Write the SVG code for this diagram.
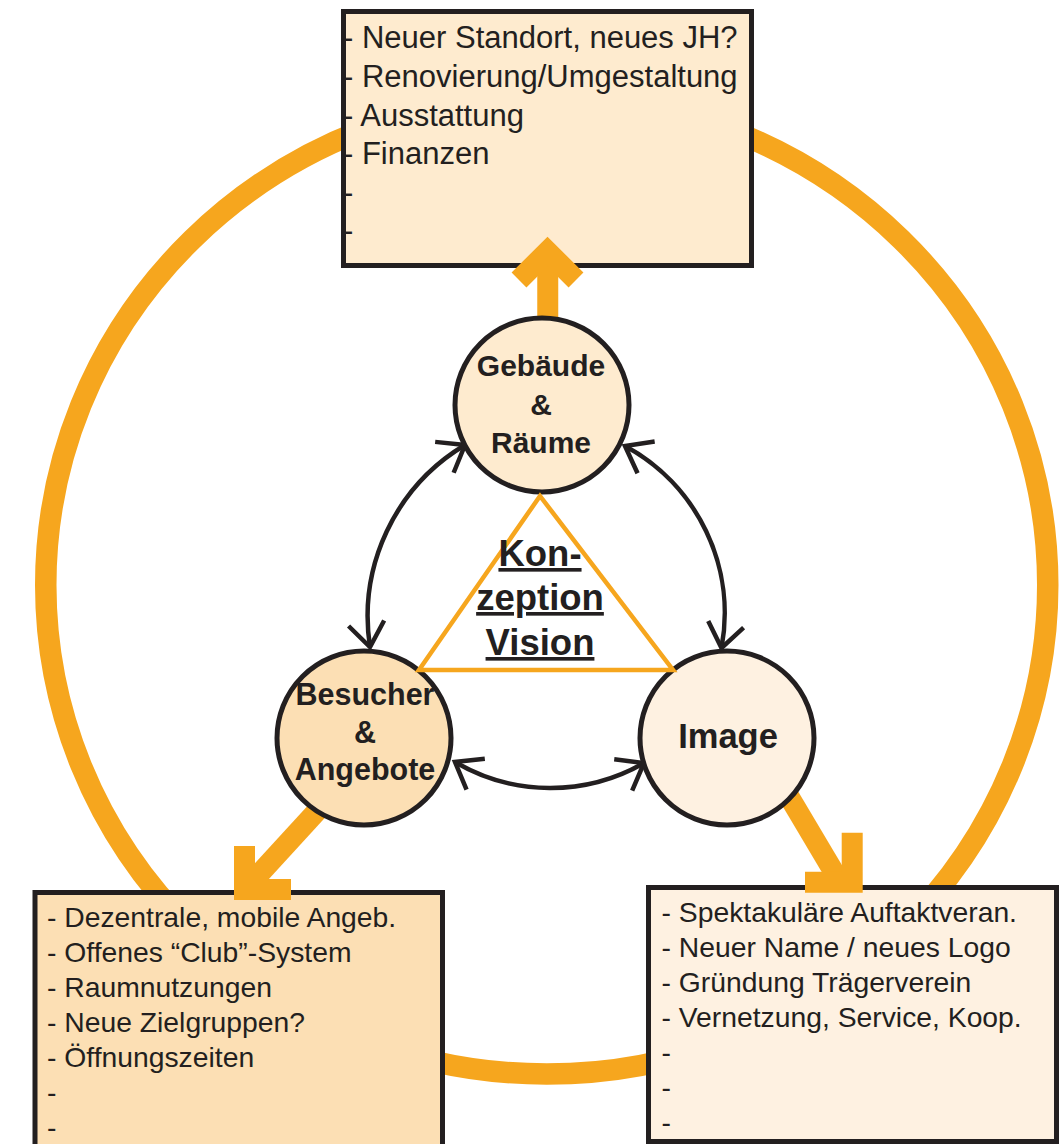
<svg xmlns="http://www.w3.org/2000/svg" width="1059" height="1144" viewBox="0 0 1059 1144">
<style>
.box{stroke:#231F20;stroke-width:5}
.list{font-family:"Liberation Sans",Arial,Helvetica,sans-serif;fill:#231F20}
.node{stroke:#231F20;stroke-width:5}
.lbl{font-family:"Liberation Sans",Arial,Helvetica,sans-serif;font-weight:bold;fill:#231F20;text-anchor:middle}
.orange{fill:none;stroke:#F6A61E;stroke-width:21;stroke-linecap:butt;stroke-linejoin:miter;stroke-miterlimit:10}
.arc{fill:none;stroke:#231F20;stroke-width:4.5}
</style>
<defs>
<marker id="ah" viewBox="-32 -26 36 52" refX="0" refY="0" markerWidth="36" markerHeight="52" markerUnits="userSpaceOnUse" orient="auto-start-reverse">
<path d="M-24,-18 L0,0 L-24,18" fill="none" stroke="#231F20" stroke-width="4.5"/>
</marker>
</defs>
<rect width="1059" height="1144" fill="#FFFFFF"/>
<ellipse id="ring" cx="546.75" cy="585" rx="501" ry="489" fill="none" stroke="#F6A61E" stroke-width="21.5"/>

<g id="box-gebaeude">
<rect class="box" x="343.5" y="11.5" width="408" height="254" fill="#FEEBCF"/>
<text class="list" font-size="31">
<tspan x="343" y="48">- Neuer Standort, neues JH?</tspan>
<tspan x="343" y="87">- Renovierung/Umgestaltung</tspan>
<tspan x="343" y="126">- Ausstattung</tspan>
<tspan x="343" y="164">- Finanzen</tspan>
<tspan x="343" y="203">-</tspan>
<tspan x="343" y="241">-</tspan>
</text>
</g>

<g id="box-besucher">
<rect class="box" x="35" y="892.5" width="407.5" height="270" fill="#FCDFB4"/>
<text class="list" font-size="28.3">
<tspan x="47" y="927">- Dezentrale, mobile Angeb.</tspan>
<tspan x="47" y="962">- Offenes “Club”-System</tspan>
<tspan x="47" y="997">- Raumnutzungen</tspan>
<tspan x="47" y="1032">- Neue Zielgruppen?</tspan>
<tspan x="47" y="1067">- Öffnungszeiten</tspan>
<tspan x="47" y="1102">-</tspan>
<tspan x="47" y="1137">-</tspan>
</text>
</g>

<g id="box-image">
<rect class="box" x="648.5" y="887.5" width="408" height="254" fill="#FEF1E1"/>
<text class="list" font-size="28.3">
<tspan x="661.5" y="922">- Spektakuläre Auftaktveran.</tspan>
<tspan x="661.5" y="957">- Neuer Name / neues Logo</tspan>
<tspan x="661.5" y="992">- Gründung Trägerverein</tspan>
<tspan x="661.5" y="1027">- Vernetzung, Service, Koop.</tspan>
<tspan x="661.5" y="1062">-</tspan>
<tspan x="661.5" y="1097">-</tspan>
<tspan x="661.5" y="1132">-</tspan>
</text>
</g>

<g id="connectors">
<line class="orange" x1="547.75" y1="320" x2="547.75" y2="254"/>
<polyline class="orange" points="519,280 547.5,251.5 576,280"/>
<line class="orange" x1="328" y1="799" x2="246.5" y2="888"/>
<polyline class="orange" points="244.5,846 244.5,889.5 291,889.5"/>
<line class="orange" x1="778" y1="778" x2="841" y2="884"/>
<polyline class="orange" points="852.2,832.7 852.2,882.2 805,882.2"/>
<path class="arc" d="M465,445 A200,200 0 0 0 370,647" marker-start="url(#ah)" marker-end="url(#ah)"/>
<path class="arc" d="M625,446 A190,190 0 0 1 721.5,648" marker-start="url(#ah)" marker-end="url(#ah)"/>
<path class="arc" d="M455,762 A188,188 0 0 0 644,763" marker-start="url(#ah)" marker-end="url(#ah)"/>
</g>

<g id="node-gebaeude">
<circle class="node" cx="542" cy="405" r="87" fill="#FEEBCF"/>
<text class="lbl" font-size="30"><tspan x="541" y="376">Gebäude</tspan><tspan x="541" y="415">&amp;</tspan><tspan x="541" y="453">Räume</tspan></text>
</g>

<g id="node-besucher">
<circle class="node" cx="364" cy="738" r="87" fill="#FCDFB4"/>
<text class="lbl" font-size="30.5"><tspan x="365" y="705">Besucher</tspan><tspan x="365" y="743">&amp;</tspan><tspan x="365" y="780">Angebote</tspan></text>
</g>

<g id="node-image">
<circle class="node" cx="727" cy="738" r="87" fill="#FEF1E1"/>
<text class="lbl" font-size="34.5"><tspan x="728" y="748">Image</tspan></text>
</g>

<g id="node-konzeption">
<polygon points="540,496 419,670 673,670" fill="none" stroke="#F6A61E" stroke-width="4.5"/>
<text class="lbl" font-size="36.5" text-decoration="underline"><tspan x="540" y="566">Kon-</tspan><tspan x="540" y="610">zeption</tspan><tspan x="540" y="655">Vision</tspan></text>
</g>
</svg>
